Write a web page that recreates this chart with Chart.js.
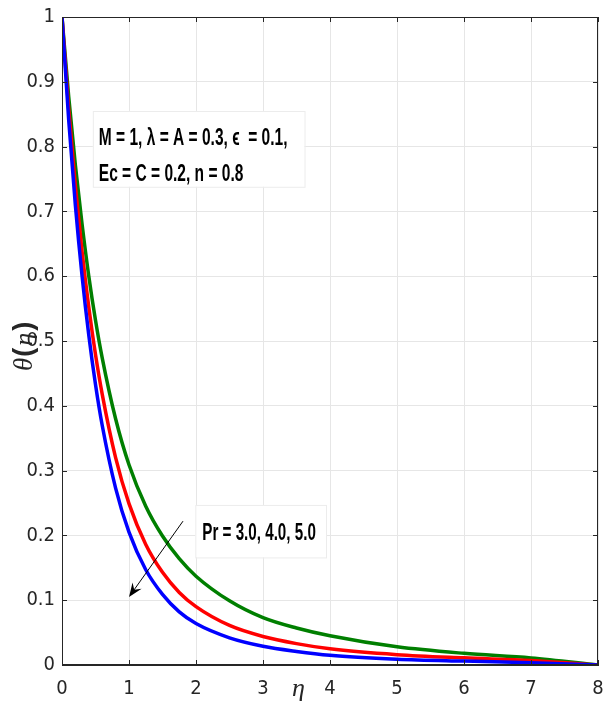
<!DOCTYPE html>
<html>
<head>
<meta charset="utf-8">
<script src="https://cdn.jsdelivr.net/npm/chart.js@4.4.1/dist/chart.umd.min.js"></script>
<style>
  html, body { margin: 0; padding: 0; background: #fff; }
  #wrap { width: 603px; height: 713px; }
</style>
</head>
<body>
<div id="wrap"><canvas id="chartTheta" width="603" height="713"></canvas></div>
<script>
// eta grid and theta(eta), one array per Pr
const eta = [0, 0.1, 0.2, 0.3, 0.4, 0.5, 0.6, 0.8, 1.0, 1.25, 1.5, 1.75, 2, 2.5, 3, 3.5, 4, 5, 6, 7, 8];
const thetaPr3 = [1, 0.877, 0.771, 0.680, 0.600, 0.532, 0.474, 0.380, 0.309, 0.245, 0.199, 0.164, 0.137, 0.099, 0.073, 0.057, 0.045, 0.028, 0.018, 0.011, 0];
const thetaPr4 = [1, 0.858, 0.739, 0.638, 0.552, 0.479, 0.418, 0.320, 0.249, 0.186, 0.143, 0.112, 0.090, 0.061, 0.044, 0.033, 0.025, 0.016, 0.011, 0.007, 0];
const thetaPr5 = [1, 0.841, 0.709, 0.600, 0.509, 0.433, 0.370, 0.273, 0.205, 0.147, 0.109, 0.082, 0.064, 0.042, 0.029, 0.021, 0.015, 0.009, 0.006, 0.0035, 0];

const xTicks = [0, 1, 2, 3, 4, 5, 6, 7, 8];
const yTicks = [0, 0.1, 0.2, 0.3, 0.4, 0.5, 0.6, 0.7, 0.8, 0.9, 1];

const seriesColors = ['#007f00', '#ff0000', '#0000ff'];

const paramLines = ['M = 1, \u03BB = A = 0.3, \u03F5  = 0.1,', 'Ec = C = 0.2, n = 0.8'];
const prLabel = 'Pr = 3.0, 4.0, 5.0';

const AXIS = '#262626';
const NARROW = '"Liberation Sans Narrow", "Arial Narrow", "DejaVu Sans Condensed", sans-serif';

const toPoints = (ys) => eta.map((e, i) => ({ x: e, y: ys[i] }));

// draws narrow text by squeezing it horizontally
function squeezed(ctx, text, x, y, font, sx) {
    ctx.save();
    ctx.translate(x, y);
    ctx.scale(sx, 1);
    ctx.font = font;
    ctx.fillText(text, 0, 0);
    ctx.restore();
}

const framePlugin = {
    id: 'frame',
    afterDatasetsDraw(chart) {
        const { ctx, chartArea: a, scales: { x, y } } = chart;
        ctx.save();

        // box round the plot
        ctx.strokeStyle = AXIS;
        ctx.lineWidth = 1;
        ctx.strokeRect(a.left + 0.5, a.top + 0.5, a.width - 1, a.height - 1);

        // inward tick marks on all four sides
        ctx.beginPath();
        x.ticks.forEach(t => {
            const px = Math.round(x.getPixelForValue(t.value)) + 0.5;
            ctx.moveTo(px, a.bottom); ctx.lineTo(px, a.bottom - 5);
            ctx.moveTo(px, a.top); ctx.lineTo(px, a.top + 5);
        });
        y.ticks.forEach(t => {
            const py = Math.round(y.getPixelForValue(t.value)) + 0.5;
            ctx.moveTo(a.left, py); ctx.lineTo(a.left + 5, py);
            ctx.moveTo(a.right, py); ctx.lineTo(a.right - 5, py);
        });
        ctx.stroke();

        const boxFont = 'bold 23px "Liberation Sans", sans-serif';

        // parameter box
        const b1x = x.getPixelForValue(0.46), b1y = y.getPixelForValue(0.855);
        const b1w = x.getPixelForValue(3.62) - b1x, b1h = y.getPixelForValue(0.738) - b1y;
        ctx.fillStyle = '#fff';
        ctx.fillRect(b1x, b1y, b1w, b1h);
        ctx.strokeStyle = '#ececec';
        ctx.strokeRect(b1x + 0.5, b1y + 0.5, b1w, b1h);
        ctx.fillStyle = '#000';
        ctx.textBaseline = 'alphabetic';
        squeezed(ctx, paramLines[0], b1x + 6, b1y + 34, boxFont, 0.675);
        squeezed(ctx, paramLines[1], b1x + 6, b1y + 70, boxFont, 0.675);

        // Pr box
        const b2x = x.getPixelForValue(1.99), b2y = y.getPixelForValue(0.247);
        const b2w = x.getPixelForValue(3.94) - b2x, b2h = y.getPixelForValue(0.166) - b2y;
        ctx.fillStyle = '#fff';
        ctx.fillRect(b2x, b2y, b2w, b2h);
        ctx.strokeStyle = '#ececec';
        ctx.strokeRect(b2x + 0.5, b2y + 0.5, b2w, b2h);
        ctx.fillStyle = '#000';
        squeezed(ctx, prLabel, b2x + 7, b2y + 35, boxFont, 0.66);

        // arrow towards increasing Pr
        const x0 = x.getPixelForValue(1.806), y0 = y.getPixelForValue(0.222);
        const x1 = x.getPixelForValue(1.0), y1 = y.getPixelForValue(0.105);
        const ang = Math.atan2(y1 - y0, x1 - x0);
        ctx.strokeStyle = '#000';
        ctx.lineWidth = 1;
        ctx.beginPath();
        ctx.moveTo(x0, y0);
        ctx.lineTo(x1 - 8 * Math.cos(ang), y1 - 8 * Math.sin(ang));
        ctx.stroke();
        ctx.beginPath();
        ctx.moveTo(x1, y1);
        ctx.lineTo(x1 - 15 * Math.cos(ang - 0.38), y1 - 15 * Math.sin(ang - 0.38));
        ctx.lineTo(x1 - 9 * Math.cos(ang), y1 - 9 * Math.sin(ang));
        ctx.lineTo(x1 - 15 * Math.cos(ang + 0.38), y1 - 15 * Math.sin(ang + 0.38));
        ctx.closePath();
        ctx.fillStyle = '#000';
        ctx.fill();

        // axis titles
        ctx.fillStyle = AXIS;
        ctx.font = 'italic 26px "Liberation Serif", serif';
        ctx.textAlign = 'center';
        ctx.fillText('\u03B7', x.getPixelForValue(3.53), 696);

        ctx.save();
        ctx.translate(32, y.getPixelForValue(0.5) + 30);
        ctx.rotate(-Math.PI / 2);
        ctx.textAlign = 'left';
        const parts = [
            ['\u03B8', 'italic 27px "Liberation Serif", serif', 1],
            ['(', 'bold 27px "Liberation Sans", sans-serif', 2],
            ['\u03B7', 'italic 26px "Liberation Serif", serif', 2],
            [')', 'bold 27px "Liberation Sans", sans-serif', 0]
        ];
        let cx = 0;
        parts.forEach(([t, f, gap]) => {
            ctx.font = f;
            ctx.fillText(t, cx, 0);
            cx += ctx.measureText(t).width + gap;
        });
        ctx.restore();

        ctx.restore();
    }
};

new Chart(document.getElementById('chartTheta'), {
    type: 'line',
    data: {
        datasets: [
            { label: 'Pr = 3.0', data: toPoints(thetaPr3), borderColor: seriesColors[0], order: 2 },
            { label: 'Pr = 4.0', data: toPoints(thetaPr4), borderColor: seriesColors[1], order: 1 },
            { label: 'Pr = 5.0', data: toPoints(thetaPr5), borderColor: seriesColors[2], order: 0 }
        ]
    },
    options: {
        responsive: false,
        animation: false,
        layout: { padding: { top: 17, right: 5, left: 0, bottom: 0 } },
        elements: {
            line: { borderWidth: 3.5, cubicInterpolationMode: 'monotone', fill: false },
            point: { radius: 0 }
        },
        plugins: {
            legend: { display: false },
            tooltip: { enabled: false }
        },
        scales: {
            x: {
                type: 'linear',
                min: 0,
                max: 8,
                afterBuildTicks: s => { s.ticks = xTicks.map(v => ({ value: v })); },
                afterFit: s => { s.height = 48; s.paddingLeft = 0; s.paddingRight = 0; },
                ticks: {
                    padding: 12,
                    color: AXIS,
                    font: { family: NARROW, size: 20 },
                    callback: v => String(v)
                },
                grid: { color: '#e6e6e6', lineWidth: 1, drawTicks: false },
                border: { color: AXIS, width: 1 }
            },
            y: {
                min: 0,
                max: 1,
                afterBuildTicks: s => { s.ticks = yTicks.map(v => ({ value: v })); },
                afterFit: s => { s.width = 62; s.paddingTop = 0; s.paddingBottom = 0; },
                ticks: {
                    padding: 7,
                    color: AXIS,
                    font: { family: NARROW, size: 20 },
                    callback: v => (v === 0 || v === 1) ? String(v) : v.toFixed(1)
                },
                grid: { color: '#e6e6e6', lineWidth: 1, drawTicks: false },
                border: { color: AXIS, width: 1 }
            }
        }
    },
    plugins: [framePlugin]
});
</script>
</body>
</html>
